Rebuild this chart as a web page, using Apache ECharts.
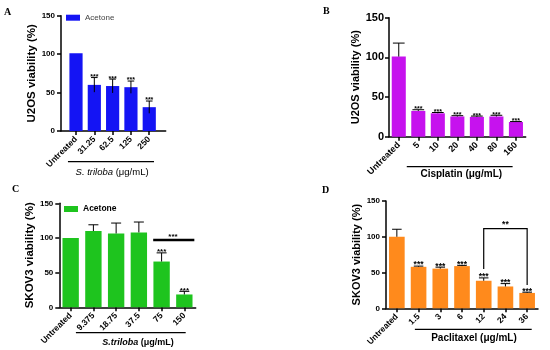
<!DOCTYPE html>
<html>
<head>
<meta charset="utf-8">
<script src="https://cdn.jsdelivr.net/npm/echarts@6/dist/echarts.min.js"></script>
<style>html,body{margin:0;padding:0;background:#fff}#c{width:550px;height:350px}</style>
</head>
<body>
<div id="c"></div>
<script>
// ---------- DATA ----------
const catsA = ['Untreated', '31.25', '62.5', '125', '250'];
const valsA = [101, 60, 58.5, 57, 31];
const errA  = [0, 9.5, 9, 8, 8];
const sigA  = ['', '***', '***', '***', '***'];

const catsB = ['Untreated', '5', '10', '20', '40', '80', '160'];
const valsB = [101, 32.5, 29.5, 25.5, 25, 25.5, 18.5];
const errB  = [17, 1.5, 1, 1, 1, 1.5, 0.6];
const sigB  = ['', '***', '***', '***', '***', '***', '***'];

const catsC = ['Untreated', '9.375', '18.75', '37.5', '75', '150'];
const valsC = [100, 110, 106.5, 108, 66, 18.5];
const errC  = [0, 9, 15, 15, 12.5, 4.5];
const sigC  = ['', '', '', '', '***', '***'];
const bracketC = { from: 4, to: 5, y: 97, label: '***' };

const catsD = ['Untreated', '1.5', '3', '6', '12', '24', '36'];
const valsD = [100, 58, 55.5, 59, 38.5, 30.5, 21.5];
const errD  = [10.5, 1, 2, 1, 4, 4, 1];
const sigD  = ['', '***', '***', '***', '***', '***', '***'];
const bracketD = { from: 4, to: 6, y: 111.5, leftEnd: 55, rightEnd: 32.5, label: '**' };

const yTicks = { min: 0, max: 150, interval: 50 };

// ---------- STYLE ----------
const F = 'Liberation Sans, Arial, sans-serif';
const BLUE = '#1414f4', PURPLE = '#c612ee', GREEN = '#1ec41e', ORANGE = '#ff8a1c';

function yAxisVis(grid, name, fs, nameFs, gap, margin) {
  return {
    type: 'value', gridIndex: grid, min: yTicks.min, max: yTicks.max, interval: yTicks.interval,
    name: name, nameLocation: 'middle', nameGap: gap,
    nameTextStyle: { fontFamily: F, fontWeight: 'bold', fontSize: nameFs, color: '#000' },
    axisLine: { show: true, lineStyle: { color: '#000', width: 1.5 } },
    axisTick: { show: true, length: 4, lineStyle: { color: '#000', width: 1.5 } },
    axisLabel: { fontFamily: F, fontWeight: 'bold', fontSize: fs, color: '#000', margin: margin },
    splitLine: { show: false }
  };
}
function yAxisHidden(grid) {
  return { type: 'value', gridIndex: grid, min: yTicks.min, max: yTicks.max, interval: yTicks.interval, show: false, splitLine: { show: false } };
}
function xCat(grid, cats, showLine, fs) {
  return {
    type: 'category', gridIndex: grid, data: cats,
    axisLine: { show: showLine, lineStyle: { color: '#000', width: 1.5 } },
    axisTick: { show: true, alignWithLabel: true, length: 4, lineStyle: { color: '#000', width: 1.5 } },
    axisLabel: { interval: 0, rotate: 45, fontFamily: F, fontWeight: 'bold', fontSize: fs, color: '#000', margin: 7 },
    splitLine: { show: false }
  };
}
function barSeries(name, xi, vals, color) {
  return { type: 'bar', name: name, xAxisIndex: xi, yAxisIndex: xi, data: vals, barWidth: '72%',
    itemStyle: { color: color }, z: 2, silent: true };
}
function errSeries(xi, vals, errs, sigs, o) {
  return {
    type: 'custom', xAxisIndex: xi, yAxisIndex: xi, z: 5, silent: true,
    data: vals.map((v, i) => [i, v, errs[i]]),
    renderItem: function (params, api) {
      const i = api.value(0), v = api.value(1), e = api.value(2);
      const bw = api.size([1, 0])[0];
      const p0 = api.coord([i, v]);
      const p1 = api.coord([i, v + e]);
      const ls = { stroke: '#000', lineWidth: 1 };
      const ch = [];
      if (e > 0) {
        const yLow = o.sym ? api.coord([i, v - e])[1] : p0[1];
        ch.push({ type: 'line', shape: { x1: p0[0], y1: yLow, x2: p1[0], y2: p1[1] }, style: ls });
        ch.push({ type: 'line', shape: { x1: p1[0] - bw * o.cap, y1: p1[1], x2: p1[0] + bw * o.cap, y2: p1[1] }, style: ls });
      }
      const s = sigs[params.dataIndex];
      if (s) {
        ch.push({ type: 'text', style: { text: s, x: p1[0], y: p1[1] + o.starDy, align: 'center', verticalAlign: 'bottom',
          fontFamily: F, fontWeight: 'bold', fontSize: o.starFs, fill: '#000' } });
      }
      return { type: 'group', children: ch };
    }
  };
}
function decorSeries(xi, L) {
  return {
    type: 'custom', xAxisIndex: xi, yAxisIndex: xi, z: 5, silent: true, data: [[0, 0]],
    renderItem: function (params, api) {
      const bw = api.size([1, 0])[0];
      const o = api.coord([0, 0]);
      const xs = o[0] + bw * L.from, xe = o[0] + bw * L.to, y = o[1] + L.lineDy;
      return { type: 'group', children: [
        { type: 'line', shape: { x1: xs, y1: y, x2: xe, y2: y }, style: { stroke: '#000', lineWidth: 1.3 } },
        { type: 'text', style: { text: L.text, rich: L.rich, x: o[0] + bw * L.textAt, y: y + L.textDy,
          align: 'center', verticalAlign: 'middle', fontFamily: F, fontWeight: L.weight, fontSize: L.fs, fill: '#000' } }
      ] };
    }
  };
}

const option = {
  animation: false,
  backgroundColor: '#fff',
  title: [
    { text: 'A', left: 4, top: 7 },
    { text: 'B', left: 323, top: 6 },
    { text: 'C', left: 12, top: 184 },
    { text: 'D', left: 322, top: 185 }
  ].map(t => Object.assign(t, { padding: 0, textStyle: { fontFamily: 'Liberation Serif, serif', fontWeight: 'bold', fontSize: 10, color: '#000' } })),
  legend: [
    { left: 66, top: 13.7, padding: 0, icon: 'rect', itemWidth: 14, itemHeight: 6, itemGap: 6,
      data: [{ name: 'Acetone', itemStyle: { color: BLUE } }],
      textStyle: { fontFamily: F, fontSize: 8, color: '#444' }, selectedMode: false },
    { left: 64, top: 204.5, padding: 0, icon: 'rect', itemWidth: 14, itemHeight: 6, itemGap: 6,
      data: [{ name: 'Acetone', itemStyle: { color: GREEN } }],
      textStyle: { fontFamily: F, fontSize: 8.5, fontWeight: 'bold', color: '#000' }, selectedMode: false }
  ],
  grid: [
    { left: 61, right: 384.3, top: 15.7, bottom: 219 },      // A frame
    { left: 66.85, right: 391.6, top: 15.7, bottom: 219 },   // A bars
    { left: 389, right: 24.3, top: 17.7, bottom: 213.3 },    // B
    { left: 59.3, right: 354.3, top: 203.3, bottom: 42.7 },  // C
    { left: 386, right: 12, top: 201, bottom: 41.7 }         // D
  ],
  xAxis: [
    { type: 'value', gridIndex: 0, min: 0, max: 1, axisLine: { show: true, onZero: false, lineStyle: { color: '#000', width: 1.5 } },
      axisTick: { show: false }, axisLabel: { show: false }, splitLine: { show: false } },
    xCat(1, catsA, false, 8.5),
    xCat(2, catsB, true, 9),
    xCat(3, catsC, true, 8.5),
    xCat(4, catsD, true, 8.5)
  ],
  yAxis: [
    yAxisVis(0, 'U2OS viability (%)', 8, 11.5, 21.5, 6),
    yAxisHidden(1),
    yAxisVis(2, 'U2OS viability (%)', 11, 11, 24, 5),
    yAxisVis(3, 'SKOV3 viability (%)', 8, 11.5, 20, 6),
    yAxisVis(4, 'SKOV3 viability (%)', 8, 11, 20, 6)
  ],
  series: [
    barSeries('Acetone', 1, valsA, BLUE),
    errSeries(1, valsA, errA, sigA, { sym: true, cap: 0.18, starDy: 3, starFs: 7 }),
    decorSeries(1, { from: -0.44, to: 4.26, textAt: 1.97, lineDy: 30.7, textDy: 10.3, fs: 9.5, weight: 'normal',
      text: '{i|S. triloba} (μg/mL)', rich: { i: { fontStyle: 'italic', fontFamily: F, fontSize: 9.5 } } }),

    barSeries('Cisplatin', 2, valsB, PURPLE),
    errSeries(2, valsB, errB, sigB, { sym: false, cap: 0.3, starDy: 3, starFs: 7 }),
    decorSeries(2, { from: 0.41, to: 5.83, textAt: 3.2, lineDy: 30, textDy: 7.3, fs: 10, weight: 'bold',
      text: 'Cisplatin (μg/mL)', rich: {} }),

    barSeries('Acetone', 3, valsC, GREEN),
    errSeries(3, valsC, errC, sigC, { sym: false, cap: 0.22, starDy: 3, starFs: 8 }),
    decorSeries(3, { from: 0.23, to: 5.06, textAt: 2.96, lineDy: 25.4, textDy: 9.6, fs: 9, weight: 'bold',
      text: '{i|S.triloba} (μg/mL)', rich: { i: { fontStyle: 'italic', fontWeight: 'bold', fontFamily: F, fontSize: 9 } } }),
    {
      type: 'custom', xAxisIndex: 3, yAxisIndex: 3, z: 6, silent: true, data: [[bracketC.from, bracketC.y]],
      renderItem: function (params, api) {
        const bw = api.size([1, 0])[0];
        const a = api.coord([bracketC.from, bracketC.y]);
        const b = api.coord([bracketC.to, bracketC.y]);
        const xs = a[0] - bw * 0.37, xe = b[0] + bw * 0.44;
        return { type: 'group', children: [
          { type: 'line', shape: { x1: xs, y1: a[1], x2: xe, y2: a[1] }, style: { stroke: '#000', lineWidth: 2.5 } },
          { type: 'text', style: { text: bracketC.label, x: (a[0] + b[0]) / 2, y: a[1] + 1, align: 'center', verticalAlign: 'bottom',
            fontFamily: F, fontWeight: 'bold', fontSize: 8, fill: '#000' } }
        ] };
      }
    },

    barSeries('Paclitaxel', 4, valsD, ORANGE),
    errSeries(4, valsD, errD, sigD, { sym: false, cap: 0.22, starDy: 3.5, starFs: 8.5 }),
    decorSeries(4, { from: 0.83, to: 6.21, textAt: 3.55, lineDy: 21, textDy: 9, fs: 10, weight: 'bold',
      text: 'Paclitaxel (μg/mL)', rich: {} }),
    {
      type: 'custom', xAxisIndex: 4, yAxisIndex: 4, z: 6, silent: true, data: [[bracketD.from, bracketD.y]],
      renderItem: function (params, api) {
        const a = api.coord([bracketD.from, bracketD.y]);
        const b = api.coord([bracketD.to, bracketD.y]);
        const la = api.coord([bracketD.from, bracketD.leftEnd]);
        const rb = api.coord([bracketD.to, bracketD.rightEnd]);
        const ls = { stroke: '#000', lineWidth: 1.2 };
        return { type: 'group', children: [
          { type: 'polyline', shape: { points: [[la[0], la[1]], [a[0], a[1]], [b[0], b[1]], [rb[0], rb[1]]] }, style: Object.assign({ fill: null }, ls) },
          { type: 'text', style: { text: bracketD.label, x: (a[0] + b[0]) / 2, y: a[1] + 1, align: 'center', verticalAlign: 'bottom',
            fontFamily: F, fontWeight: 'bold', fontSize: 8.5, fill: '#000' } }
        ] };
      }
    }
  ]
};

const chart = echarts.init(document.getElementById('c'), null, { renderer: 'canvas' });
chart.setOption(option);
</script>
</body>
</html>
